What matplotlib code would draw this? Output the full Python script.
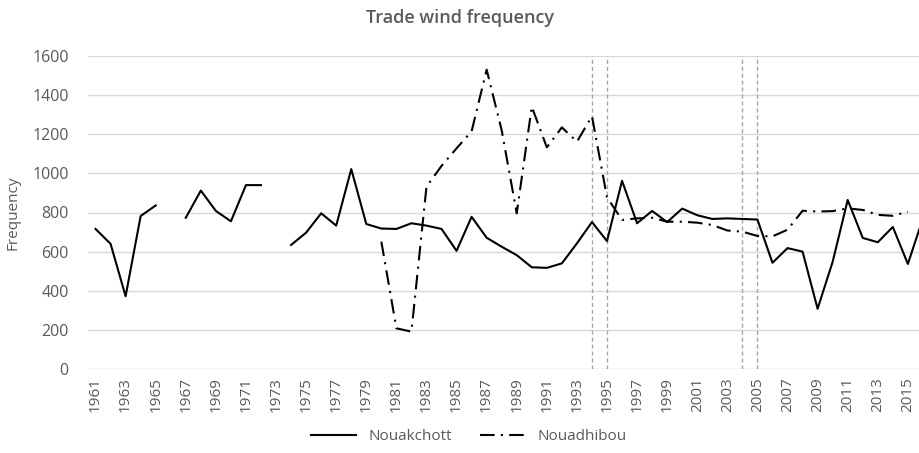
import matplotlib.pyplot as plt
import numpy as np

# data (nan = no value)
years = np.arange(1961, 2017)
nouakchott = [716, 640, 372, 782, 836, np.nan, 773, 912, 808, 755,
              940, 940, np.nan, 634, 697, 796, 733, 1022, 741, 718,
              716, 745, 733, 716, 604, 778, 671, 625, 582, 520,
              517, 540, 642, 751, 654, 962, 745, 808, 751, 820,
              786, 767, 770, 767, 764, 543, 618, 600, 308, 548,
              864, 670, 648, 726, 537, 770]
nouadhibou = [np.nan] * 19 + [651, 208, 191, 932, 1038, 1128, 1215, 1530, 1220, 796,
              1341, 1133, 1235, 1162, 1292, 878, 762, 770, 773, 753,
              753, 748, 736, 708, 702, 680, 678, 712, 809, 805,
              807, 821, 813, 788, 783, 804, np.nan]
marked_years = [1994, 1995, 2004, 2005]
tick_years = np.arange(1961, 2016, 2)
yticks = np.arange(0, 1601, 200)

grey = '#595959'
plt.rcParams['font.family'] = ['Open Sans', 'DejaVu Sans']

fig = plt.figure(figsize=(9.19, 4.53), dpi=100)
ax = fig.add_axes([88 / 919, 84 / 453, 1 - 88 / 919, 313 / 453])

for yv in yticks:
    ax.axhline(yv, color='#d9d9d9', lw=1.0, zorder=0)
for yr in marked_years:
    ax.axvline(yr, color='#a6a6a6', lw=1.0, ls=(0, (3, 2)), zorder=1)

ax.plot(years, nouakchott, color='black', lw=1.5, label='Nouakchott', zorder=3)
ax.plot(years, nouadhibou, color='black', lw=1.5, ls=(0, (7, 3, 1, 3)),
        label='Nouadhibou', zorder=3)

ax.set_xlim(1960.5, 2015.74)
ax.set_ylim(0, 1600)
ax.set_xticks(tick_years)
ax.set_xticklabels([str(y) for y in tick_years], rotation=90, fontsize=11, color=grey)
ax.set_yticks(yticks)
ax.set_yticklabels([str(v) for v in yticks], fontsize=11.5, color=grey)
ax.tick_params(length=0, pad=6)
ax.tick_params(axis='y', pad=14)
for s in ax.spines.values():
    s.set_visible(False)

ax.set_ylabel('Frequency', fontsize=11, color=grey, labelpad=8)
fig.text(0.5, 1 - 18 / 453, 'Trade wind frequency', ha='center', va='center',
         fontsize=13, fontweight='semibold', color=grey)

fig.legend(loc='center', bbox_to_anchor=(0.51, 16 / 453), ncol=2, frameon=False,
           fontsize=11, handlelength=3.0, columnspacing=1.8, labelcolor=grey)

fig.savefig('out.png', dpi=100)
